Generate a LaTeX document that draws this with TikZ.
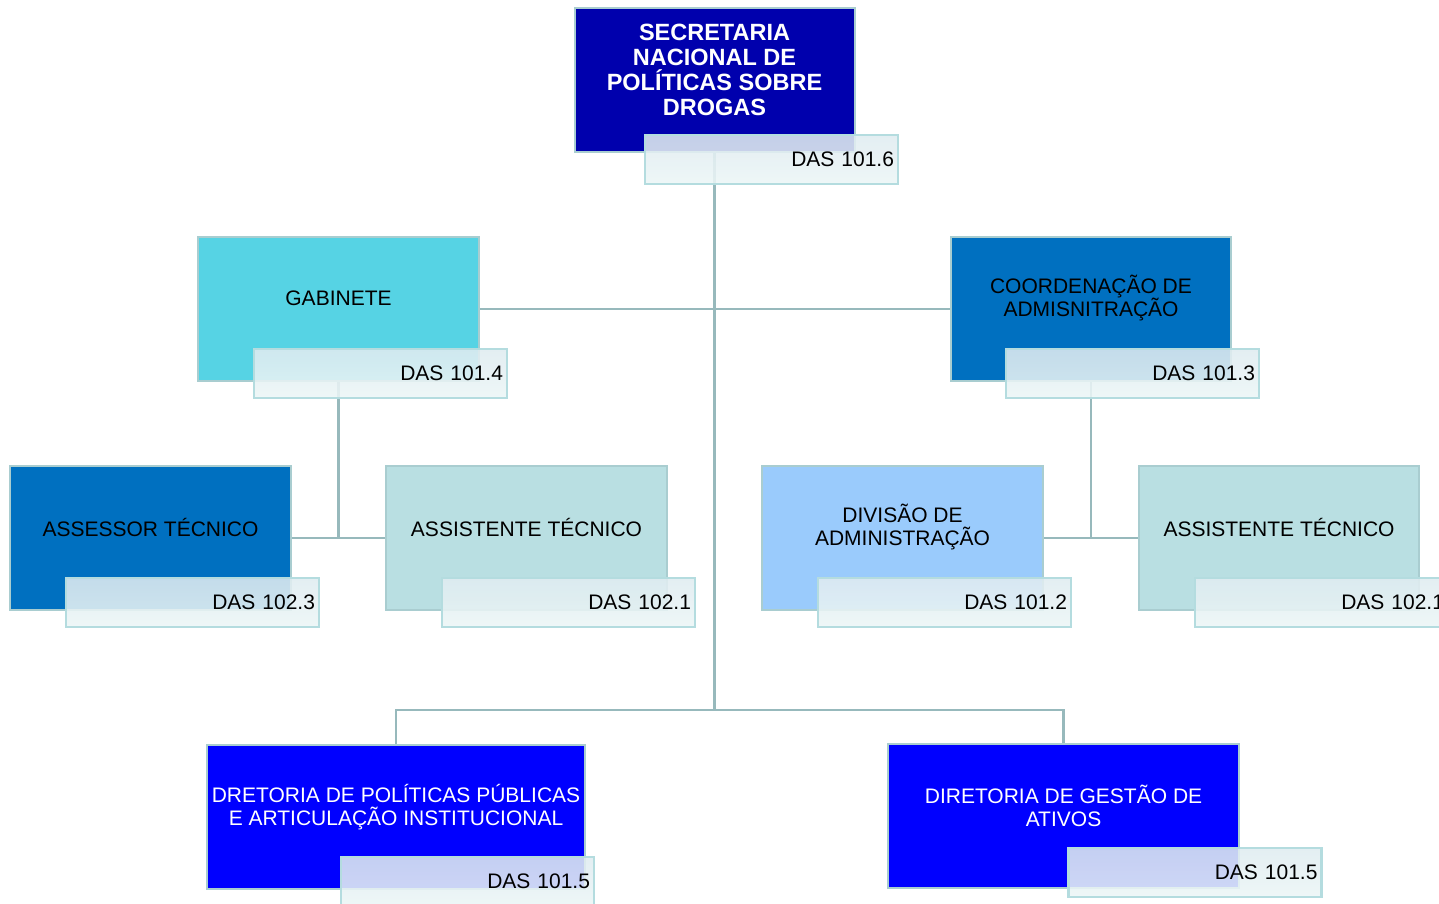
\documentclass[tikz,border=0pt]{standalone}
\usepackage{fontspec}
\setmainfont{Liberation Sans}
\definecolor{bordc}{HTML}{A9CDD0}
\definecolor{connc}{HTML}{97B9BC}
\definecolor{dasborder}{HTML}{B4DCDF}
\definecolor{dasT}{HTML}{E0ECF1}
\definecolor{dasB}{HTML}{ECF6F6}
\definecolor{topc}{HTML}{0000AD}
\definecolor{gabc}{HTML}{56D3E4}
\definecolor{midc}{HTML}{0070C0}
\definecolor{astc}{HTML}{B9DFE2}
\definecolor{divc}{HTML}{9ACBFC}
\definecolor{botc}{HTML}{0000FF}
\begin{document}
\begin{tikzpicture}[x=1pt,y=-1pt,
  box/.style={draw=bordc, line width=2pt, minimum height=144pt, minimum width=281pt, inner sep=0pt},
  lbl/.style={font=\fontsize{21}{23}\selectfont, align=center, inner sep=0pt},
  boldlbl/.style={font=\fontsize{23.5}{25}\selectfont\bfseries, align=center, inner sep=0pt},
  das/.style={draw=dasborder, line width=2.5pt, top color=dasT, bottom color=dasB,
    fill opacity=0.88, text opacity=1, minimum width=253pt, minimum height=49pt,
    text width=245pt, align=right, inner xsep=4pt, inner ysep=0pt,
    font=\fontsize{21}{23}\selectfont},
  conn/.style={draw=connc, line width=2.5pt}]
\useasboundingbox (0,0) rectangle (1439,904);
\clip (0,0) rectangle (1439,904);
\fill[white] (0,0) rectangle (1439,904);

% main boxes
\node[box, fill=topc, minimum width=280pt] (top) at (714.5,80) {};
\node[boldlbl, text=white] (topT) at (714.5,70) {SECRETARIA\\NACIONAL DE\\POLÍTICAS SOBRE\\DROGAS};

\node[box, fill=gabc] (gab) at (338.5,309) {};
\node[lbl] (gabT) at (338.5,298) {GABINETE};

\node[box, fill=midc, minimum width=280pt] (coo) at (1091,309) {};
\node[lbl] (cooT) at (1091,298.5) {COORDENAÇÃO DE\\ADMISNITRAÇÃO};

\node[box, fill=midc] (asr) at (150.5,538) {};
\node[lbl] (asrT) at (150.5,527) {ASSESSOR TÉCNICO};

\node[box, fill=astc] (ast1) at (526.5,538) {};
\node[lbl] (ast1T) at (526.5,527) {ASSISTENTE TÉCNICO};

\node[box, fill=divc] (div) at (902.5,538) {};
\node[lbl] (divT) at (902.5,527) {DIVISÃO DE\\ADMINISTRAÇÃO};

\node[box, fill=astc, minimum width=280pt] (ast2) at (1279,538) {};
\node[lbl] (ast2T) at (1279,527) {ASSISTENTE TÉCNICO};

\node[box, fill=botc, minimum width=378pt] (dl) at (396,817) {};
\node[lbl, text=white] (dlT) at (396,807.5) {DRETORIA DE POLÍTICAS PÚBLICAS\\E ARTICULAÇÃO INSTITUCIONAL};

\node[box, fill=botc, minimum width=351pt] (dr) at (1063.5,816) {};
\node[lbl, text=white] (drT) at (1063.5,805.5) {DIRETORIA DE GESTÃO DE\\ATIVOS};

% connectors
\coordinate (jb) at (714.5,710);
\draw[conn] (top.south) -- (jb);
\draw[conn] (gab.east) -- (coo.west);
\draw[conn] (dl.north) |- (jb) -| (dr.north);
\draw[conn] (gab.south) |- (asr.east);
\draw[conn] (gab.south |- ast1.west) -- (ast1.west);
\draw[conn] (coo.south) |- (div.east);
\draw[conn] (coo.south |- ast2.west) -- (ast2.west);

% DAS boxes
\node[das] (dtop) at (771.5,159.5) {DAS 101.6};
\node[das] (dgab) at (380.5,373.5) {DAS 101.4};
\node[das] (dcoo) at (1132.5,373.5) {DAS 101.3};
\node[das] (dasr) at (192.5,602.5) {DAS 102.3};
\node[das] (dast1) at (568.5,602.5) {DAS 102.1};
\node[das] (ddiv) at (944.5,602.5) {DAS 101.2};
\node[das] (dast2) at (1321.5,602.5) {DAS 102.1};
\node[das] (ddl) at (467.5,881.5) {DAS 101.5};
\node[das] (ddr) at (1195,872.5) {DAS 101.5};
\end{tikzpicture}
\end{document}
